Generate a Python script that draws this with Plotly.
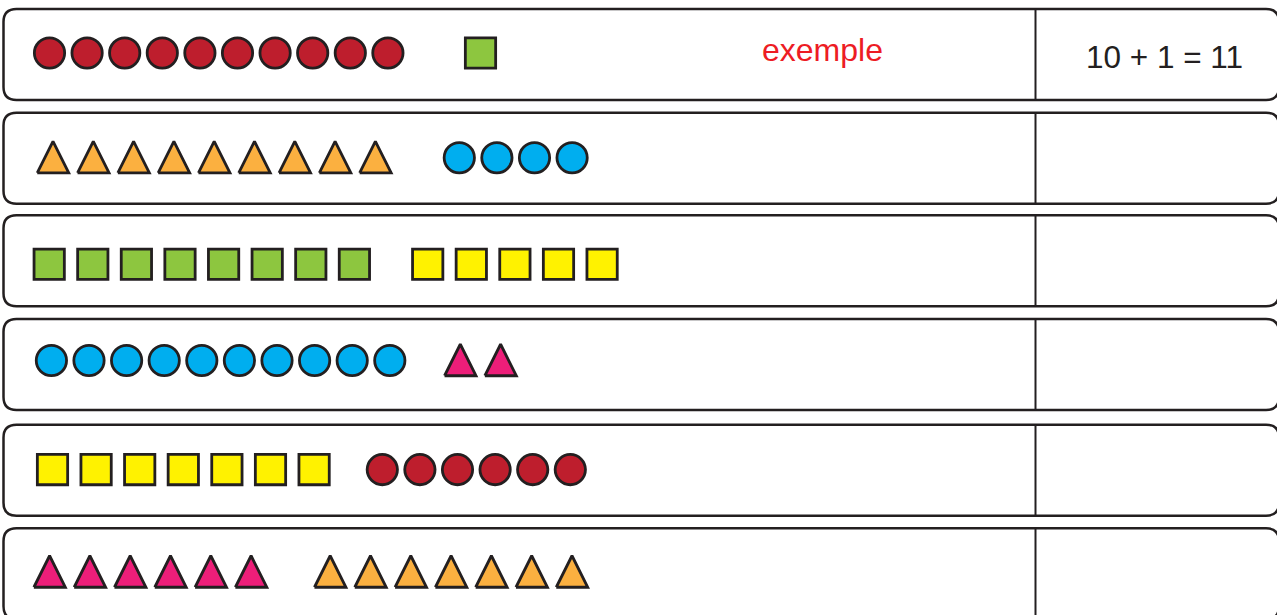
import plotly.graph_objects as go

# ---------------- data ----------------
row_labels = ["exemple", "ligne 2", "ligne 3", "ligne 4", "ligne 5", "ligne 6"]
first_counts = [10, 9, 8, 10, 7, 6]
first_shapes = ["circle", "triangle", "square", "circle", "square", "triangle"]
first_colors = ["#BE1E2D", "#FBB040", "#8DC63F", "#00AEEF", "#FFF200", "#ED1E79"]
second_counts = [1, 4, 5, 2, 6, 7]
second_shapes = ["square", "circle", "square", "triangle", "circle", "triangle"]
second_colors = ["#8DC63F", "#00AEEF", "#FFF200", "#ED1E79", "#BE1E2D", "#FBB040"]
answers = ["10 + 1 = 11", "", "", "", "", ""]
example_label = "exemple"

# ---------------- layout / style ----------------
W, H = 1277, 615
INK = "#231F20"
box_tops = [9, 112.7, 215.3, 319, 424.7, 528.3]
box_h = 91
box_x0, box_x1 = 3.5, 1279
corner = 13
divider_x = 1035.5
row_cy = [53, 157.7, 264.3, 360.5, 469.6, 572]
first_x0 = [49.5, 53, 49.2, 51.4, 52.5, 49.6]
second_x0 = [480.5, 459.3, 427.7, 460.3, 382.3, 330.2]
spacing = {"circle": 37.6, "triangle": 40.3, "square": 43.6}
marker_size = {"circle": 30.3, "square": 30.3}
tri_w, tri_h, tri_dy = 31.5, 31.5, -0.5
line_w = 2.8

fig = go.Figure()


def add_group(n, shape, color, x0, cy):
    xs = [x0 + i * spacing[shape] for i in range(n)]
    if shape == "triangle":
        px, py = [], []
        c = cy + tri_dy
        for cx in xs:
            px += [cx - tri_w / 2, cx + tri_w / 2, cx, cx - tri_w / 2, None]
            py += [c + tri_h / 2, c + tri_h / 2, c - tri_h / 2, c + tri_h / 2, None]
        fig.add_trace(go.Scatter(
            x=px, y=py, mode="lines", fill="toself", fillcolor=color,
            line=dict(color=INK, width=line_w), hoverinfo="skip",
            showlegend=False))
    else:
        fig.add_trace(go.Scatter(
            x=xs, y=[cy] * n, mode="markers",
            marker=dict(symbol=shape, size=marker_size[shape], color=color,
                        line=dict(color=INK, width=line_w)),
            hoverinfo="skip", showlegend=False))


for i in range(len(row_labels)):
    add_group(first_counts[i], first_shapes[i], first_colors[i], first_x0[i], row_cy[i])
    add_group(second_counts[i], second_shapes[i], second_colors[i], second_x0[i], row_cy[i])

shapes = []
for top in box_tops:
    x0, x1, y0, y1, r = box_x0, box_x1, top, top + box_h, corner
    path = (f"M {x0 + r},{y0} H {x1 - r} Q {x1},{y0} {x1},{y0 + r} "
            f"V {y1 - r} Q {x1},{y1} {x1 - r},{y1} H {x0 + r} "
            f"Q {x0},{y1} {x0},{y1 - r} V {y0 + r} Q {x0},{y0} {x0 + r},{y0} Z")
    shapes.append(dict(type="path", path=path, xref="x", yref="y",
                       line=dict(color=INK, width=2.5), layer="below"))
    shapes.append(dict(type="line", x0=divider_x, x1=divider_x, y0=y0, y1=y1,
                       xref="x", yref="y", line=dict(color=INK, width=2),
                       layer="below"))

annotations = [
    dict(x=822, y=50, text=example_label, showarrow=False, xref="x", yref="y",
         font=dict(family="Liberation Sans, Arial, sans-serif", size=32,
                   color="#ED1C24")),
]
for i, a in enumerate(answers):
    if a:
        annotations.append(dict(
            x=1164.5, y=row_cy[i] + 4, text=a, showarrow=False, xref="x", yref="y",
            font=dict(family="Liberation Sans, Arial, sans-serif", size=31.5,
                      color=INK)))

fig.update_layout(
    width=W, height=H, margin=dict(l=0, r=0, t=0, b=0),
    paper_bgcolor="white", plot_bgcolor="white", showlegend=False,
    xaxis=dict(range=[0, W], visible=False, fixedrange=True),
    yaxis=dict(range=[H, 0], visible=False, fixedrange=True),
    shapes=shapes, annotations=annotations,
)

fig.write_html("out.html",
               config={"displayModeBar": False, "staticPlot": True},
               post_script="document.body.style.margin='0px';"
                           "document.body.style.overflow='hidden';")
